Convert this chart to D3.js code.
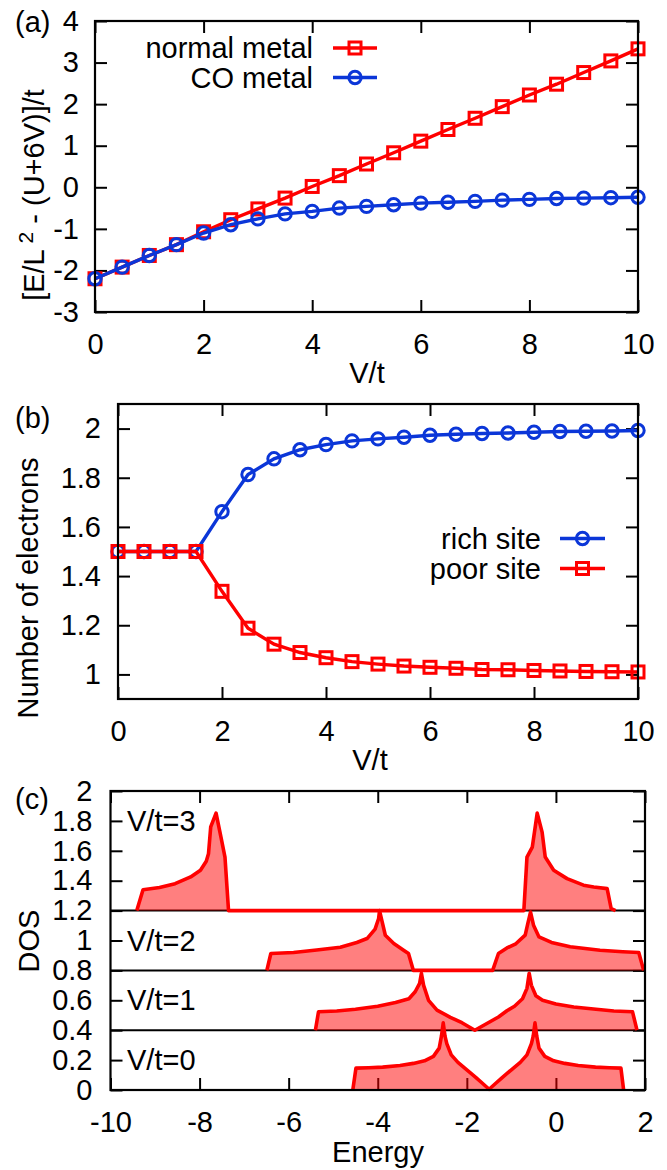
<!DOCTYPE html>
<html><head><meta charset="utf-8">
<script src="https://cdn.jsdelivr.net/npm/d3@7"></script>
<style>
body{margin:0;background:#fff}
svg{display:block}
text{font-family:"Liberation Sans",Arial,Helvetica,sans-serif;font-size:29px;fill:#000}
</style>
</head><body>
<svg id="fig" width="667" height="1170"></svg>
<script>
// ---------------- data ----------------
const vOverT = [0,0.5,1,1.5,2,2.5,3,3.5,4,4.5,5,5.5,6,6.5,7,7.5,8,8.5,9,9.5,10];
const normalMetal = [-2.20,-1.92,-1.64,-1.38,-1.07,-0.78,-0.52,-0.26,0.02,0.28,0.56,0.83,1.11,1.39,1.66,1.94,2.22,2.48,2.76,3.04,3.33];
const coMetal = [-2.20,-1.92,-1.64,-1.38,-1.10,-0.90,-0.76,-0.64,-0.58,-0.50,-0.46,-0.42,-0.38,-0.36,-0.34,-0.31,-0.29,-0.27,-0.26,-0.25,-0.24];
const richSite = [1.5,1.5,1.5,1.5,1.662,1.813,1.877,1.914,1.935,1.950,1.958,1.965,1.973,1.977,1.980,1.982,1.985,1.988,1.989,1.990,1.992];
const poorSite = [1.5,1.5,1.5,1.5,1.338,1.188,1.123,1.089,1.068,1.052,1.042,1.034,1.029,1.025,1.020,1.019,1.016,1.014,1.012,1.011,1.010];

const aYTicks = [-3,-2,-1,0,1,2,3,4];
const vXTicks = [0,2,4,6,8,10];
const bYTicks = [1,1.2,1.4,1.6,1.8,2];
const cXTicks = [-10,-8,-6,-4,-2,0,2];
const cYTicks = [0,0.2,0.4,0.6,0.8,1,1.2,1.4,1.6,1.8,2];

const dosLabels = ["V/t=0","V/t=1","V/t=2","V/t=3"];
const dosOffsets = [0,0.4,0.8,1.2];
// [energy, DOS] (DOS relative to each curve's offset)
const dosV0 = [[-4.56,0],[-4.49,0.146],[-4.2,0.149],[-3.89,0.153],[-3.5,0.164],[-3.2,0.178],[-2.95,0.195],[-2.75,0.225],[-2.62,0.28],[-2.57,0.36],[-2.53,0.449],[-2.49,0.36],[-2.45,0.31],[-2.35,0.235],[-2.2,0.185],[-2.0,0.135],[-1.8,0.085],[-1.65,0.045],[-1.5,0.005],[-1.35,0.045],[-1.2,0.085],[-1.0,0.135],[-0.8,0.185],[-0.65,0.235],[-0.55,0.31],[-0.51,0.36],[-0.47,0.449],[-0.43,0.36],[-0.38,0.28],[-0.25,0.225],[-0.05,0.195],[0.2,0.178],[0.5,0.164],[0.89,0.153],[1.2,0.149],[1.46,0.146],[1.52,0]];
const dosV1 = [[-5.40,0],[-5.33,0.123],[-4.92,0.128],[-4.5,0.14],[-4.0,0.16],[-3.6,0.185],[-3.3,0.21],[-3.16,0.257],[-3.06,0.313],[-3.02,0.38],[-2.97,0.30],[-2.86,0.20],[-2.67,0.134],[-2.37,0.086],[-2.11,0.05],[-1.82,0],[-1.55,0.045],[-1.29,0.088],[-1.10,0.13],[-0.93,0.16],[-0.75,0.21],[-0.65,0.28],[-0.6,0.38],[-0.55,0.30],[-0.45,0.23],[-0.3,0.2],[0.0,0.175],[0.4,0.155],[0.9,0.14],[1.3,0.128],[1.72,0.123],[1.82,0]];
const dosV2 = [[-6.49,0],[-6.40,0.113],[-5.89,0.12],[-5.37,0.137],[-4.84,0.155],[-4.47,0.187],[-4.24,0.213],[-4.06,0.276],[-3.98,0.347],[-3.96,0.40],[-3.91,0.336],[-3.83,0.235],[-3.64,0.18],[-3.42,0.135],[-3.31,0.113],[-3.20,0],[-1.42,0],[-1.29,0.113],[-1.10,0.15],[-0.9,0.178],[-0.69,0.236],[-0.63,0.314],[-0.57,0.39],[-0.50,0.30],[-0.38,0.224],[-0.1,0.187],[0.32,0.158],[0.99,0.135],[1.5,0.125],[1.86,0.12],[1.97,0]];
const dosV3 = [[-9.41,0],[-9.27,0.14],[-8.9,0.155],[-8.55,0.18],[-8.2,0.225],[-7.98,0.27],[-7.85,0.33],[-7.8,0.38],[-7.75,0.56],[-7.63,0.652],[-7.52,0.492],[-7.43,0.358],[-7.35,0],[-0.72,0],[-0.65,0.358],[-0.53,0.425],[-0.42,0.652],[-0.31,0.525],[-0.24,0.358],[-0.05,0.27],[0.25,0.214],[0.62,0.17],[0.85,0.158],[1.15,0.147],[1.24,0.014],[1.34,0]];
const dosCurves = [dosV0, dosV1, dosV2, dosV3];

// ---------------- drawing ----------------
const RED = "#ff0000", BLUE = "#0b36d8";
const svg = d3.select("#fig");
const TICK = 12;
const fmtPlain = d => String(+(+d).toFixed(1));

function frame(g, x, y, xt, yt, xpad, ypad) {
  g.append("g").attr("transform", `translate(0,${y.range()[0]})`)
    .call(d3.axisBottom(x).tickValues(xt).tickSizeInner(-TICK).tickSizeOuter(0).tickPadding(xpad).tickFormat(fmtPlain))
    .call(s => s.select(".domain").remove());
  g.append("g").attr("transform", `translate(0,${y.range()[1]})`)
    .call(d3.axisTop(x).tickValues(xt).tickSizeInner(-TICK).tickSizeOuter(0).tickFormat(""))
    .call(s => s.select(".domain").remove());
  g.append("g").attr("transform", `translate(${x.range()[0]},0)`)
    .call(d3.axisLeft(y).tickValues(yt).tickSizeInner(-TICK).tickSizeOuter(0).tickPadding(ypad).tickFormat(fmtPlain))
    .call(s => s.select(".domain").remove());
  g.append("g").attr("transform", `translate(${x.range()[1]},0)`)
    .call(d3.axisRight(y).tickValues(yt).tickSizeInner(-TICK).tickSizeOuter(0).tickFormat(""))
    .call(s => s.select(".domain").remove());
  g.selectAll(".tick line").attr("stroke", "#000").attr("stroke-width", 2);
  g.selectAll(".tick text").attr("fill", "#000");
}
function border(g, x, y) {
  g.append("rect").attr("x", x.range()[0]).attr("y", y.range()[1])
    .attr("width", x.range()[1] - x.range()[0]).attr("height", y.range()[0] - y.range()[1])
    .attr("fill", "none").attr("stroke", "#000").attr("stroke-width", 2.2);
}
function series(g, x, y, vals, color, shape) {
  const pts = vOverT.map((v, i) => [v, vals[i]]);
  g.append("path").attr("d", d3.line().x(d => x(d[0])).y(d => y(d[1]))(pts))
    .attr("fill", "none").attr("stroke", color).attr("stroke-width", 3.4);
  pts.forEach(d => marker(g, x(d[0]), y(d[1]), color, shape));
}
function marker(g, cx, cy, color, shape) {
  if (shape === "sq") g.append("rect").attr("x", cx - 6).attr("y", cy - 6).attr("width", 12).attr("height", 12)
    .attr("fill", "none").attr("stroke", color).attr("stroke-width", 3);
  else g.append("circle").attr("cx", cx).attr("cy", cy).attr("r", 6.2)
    .attr("fill", "none").attr("stroke", color).attr("stroke-width", 3);
}
function legendEntry(g, tx, lx1, lx2, yy, label, color, shape) {
  g.append("text").attr("x", tx).attr("y", yy).attr("dy", "0.35em").attr("text-anchor", "end").text(label);
  g.append("line").attr("x1", lx1).attr("x2", lx2).attr("y1", yy).attr("y2", yy).attr("stroke", color).attr("stroke-width", 3.4);
  marker(g, (lx1 + lx2) / 2, yy, color, shape);
}
function ylabel(g, cx, cy, label) {
  return g.append("text").attr("transform", `translate(${cx},${cy}) rotate(-90)`).attr("text-anchor", "middle").attr("dy", "0.35em").text(label);
}

// ---- panel (a) ----
{
  const g = svg.append("g");
  const x = d3.scaleLinear().domain([0, 10]).range([95, 638]);
  const y = d3.scaleLinear().domain([-3, 4]).range([312, 21]);
  frame(g, x, y, vXTicks, aYTicks, 21, 16);
  series(g, x, y, normalMetal, RED, "sq");
  series(g, x, y, coMetal, BLUE, "ci");
  border(g, x, y);
  legendEntry(g, 313, 333, 377, 48, "normal metal", RED, "sq");
  legendEntry(g, 313, 333, 377, 77.5, "CO metal", BLUE, "ci");
  g.append("text").attr("x", 367).attr("y", 383).attr("text-anchor", "middle").text("V/t");
  const t = g.append("text").attr("transform", "translate(34,195) rotate(-90)").attr("text-anchor", "middle").attr("dy", "0.35em");
  t.append("tspan").text("[E/L");
  t.append("tspan").attr("dy", -11).style("font-size", "21px").text(" 2");
  t.append("tspan").attr("dy", 11).text(" - (U+6V)]/t");
  g.append("text").attr("x", 15).attr("y", 32).text("(a)");
}

// ---- panel (b) ----
{
  const g = svg.append("g");
  const x = d3.scaleLinear().domain([0, 10]).range([118, 638]);
  const y = d3.scaleLinear().domain([0.9, 2.1]).range([699, 404]);
  frame(g, x, y, vXTicks, bYTicks, 21, 17);
  series(g, x, y, richSite, BLUE, "ci");
  series(g, x, y, poorSite, RED, "sq");
  border(g, x, y);
  legendEntry(g, 541, 560, 605, 538.5, "rich site", BLUE, "ci");
  legendEntry(g, 541, 560, 605, 568.5, "poor site", RED, "sq");
  g.append("text").attr("x", 370).attr("y", 770).attr("text-anchor", "middle").text("V/t");
  ylabel(g, 28, 588, "Number of electrons");
  g.append("text").attr("x", 15).attr("y", 428).text("(b)");
}

// ---- panel (c) ----
{
  const g = svg.append("g");
  const x = d3.scaleLinear().domain([-10, 2]).range([110.5, 645]);
  const y = d3.scaleLinear().domain([0, 2]).range([1090, 791]);
  frame(g, x, y, cXTicks, cYTicks, 21, 18);
  dosOffsets.slice(1).forEach(o => {
    g.append("line").attr("x1", x.range()[0]).attr("x2", x.range()[1]).attr("y1", y(o)).attr("y2", y(o))
      .attr("stroke", "#000").attr("stroke-width", 2);
  });
  dosCurves.forEach((c, i) => {
    const o = dosOffsets[i];
    g.append("path").attr("d", d3.area().x(d => x(d[0])).y0(y(o)).y1(d => y(o + d[1]))(c))
      .attr("fill", RED).attr("fill-opacity", 0.5).attr("stroke", "none");
  });
  dosCurves.forEach((c, i) => {
    const o = dosOffsets[i];
    g.append("path").attr("d", d3.line().x(d => x(d[0])).y(d => y(o + d[1]))(c))
      .attr("fill", "none").attr("stroke", RED).attr("stroke-width", 3.6).attr("stroke-linejoin", "round");
  });
  border(g, x, y);
  const labelY = [0.2, 0.6, 1.0, 1.8];
  dosLabels.forEach((l, i) => {
    g.append("text").attr("x", 127).attr("y", y(labelY[i])).attr("dy", "0.35em").text(l);
  });
  g.append("text").attr("x", 378).attr("y", 1162).attr("text-anchor", "middle").text("Energy");
  ylabel(g, 29, 941, "DOS");
  g.append("text").attr("x", 15).attr("y", 809).text("(c)");
}
</script>
</body></html>
